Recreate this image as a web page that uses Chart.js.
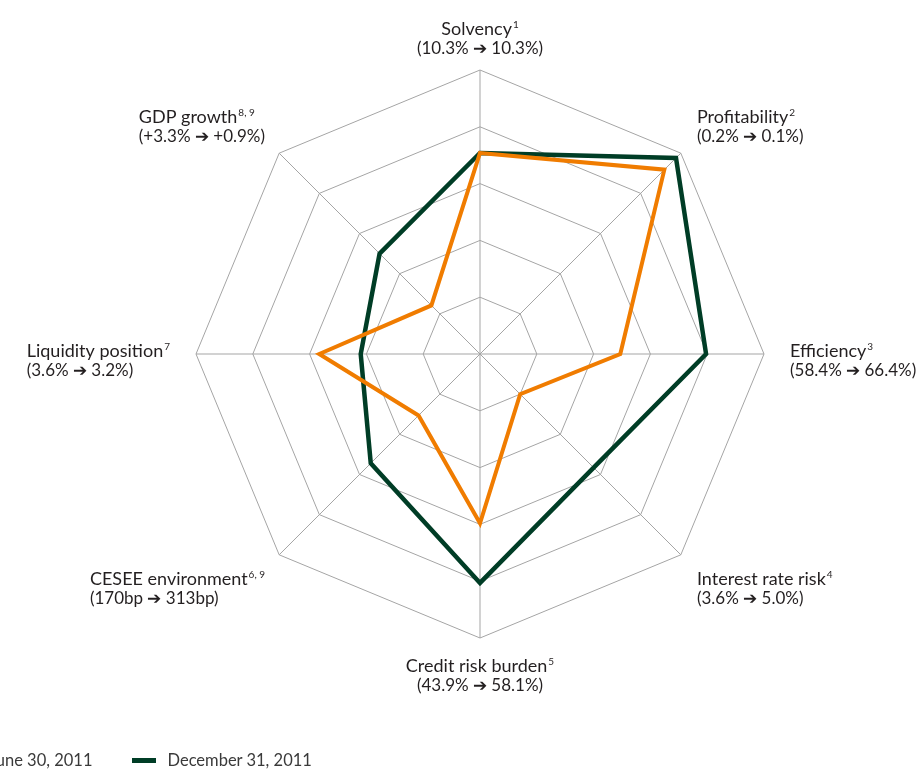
<!DOCTYPE html>
<html>
<head>
<meta charset="utf-8">
<script src="https://cdn.jsdelivr.net/npm/chart.js@4"></script>
<style>
  body { margin: 0; overflow: hidden; background: #fff; }
  #wrap { position: relative; width: 919px; height: 769px; }
  #legend { position: absolute; left: -46px; top: 750px; display: flex; align-items: center;
            font: 16.5px Lato, sans-serif; color: #3a3a3a; white-space: nowrap; }
  #legend .item { display: flex; align-items: center; margin-right: 40px; }
  #legend .bar { width: 24px; height: 5px; margin-right: 11px; }
</style>
</head>
<body>
<div id="wrap">
  <canvas id="chart-risk-radar"></canvas>
  <div id="legend"></div>
</div>
<script>
let axisNames = ['Solvency', 'Profitability', 'Efficiency', 'Interest rate risk',
    'Credit risk burden', 'CESEE environment', 'Liquidity position', 'GDP growth'];
let footnotes = ['1', '2', '3', '4', '5', '6, 9', '7', '8, 9'];
let changes = ['(10.3% \u2794 10.3%)', '(0.2% \u2794 0.1%)', '(58.4% \u2794 66.4%)', '(3.6% \u2794 5.0%)',
    '(43.9% \u2794 58.1%)', '(170bp \u2794 313bp)', '(3.6% \u2794 3.2%)', '(+3.3% \u2794 +0.9%)'];

let seriesNames = ['June 30, 2011', 'December 31, 2011'];
let june2011 = [3.54, 4.59, 2.47, 1.0, 2.98, 1.53, 2.83, 1.21];
let december2011 = [3.54, 4.88, 3.98, 2.83, 4.03, 2.72, 2.1, 2.5];
let seriesColors = ['#f07c00', '#003d26'];

// draws the two-line axis captions (name + footnote, then change in brackets)
const axisLabels = {
    id: 'axisLabels',
    afterDraw(chart) {
        const scale = chart.scales.r;
        const ctx = chart.ctx;
        ctx.save();
        ctx.fillStyle = '#231f20';
        ctx.textBaseline = 'alphabetic';
        ctx.textAlign = 'left';
        const nameFont = '18px Lato, sans-serif';
        const noteFont = '10px Lato, sans-serif';
        const changeFont = '17px Lato, sans-serif';
        const lineGap = 19;

        axisNames.forEach((name, i) => {
            const p = scale.getPointPosition(i, scale.drawingArea + 20);
            const dx = p.x - scale.xCenter;
            const dy = p.y - scale.yCenter;

            ctx.font = nameFont;
            const nameW = ctx.measureText(name).width;
            ctx.font = noteFont;
            const noteW = ctx.measureText(footnotes[i]).width + 1;
            ctx.font = changeFont;
            const changeW = ctx.measureText(changes[i]).width;
            const line1W = nameW + noteW;
            const blockW = Math.max(line1W, changeW);

            let base1;
            if (Math.abs(dx) < 1) {
                base1 = dy < 0 ? p.y + 4 - lineGap : p.y + 14;
            } else if (Math.abs(dy) < 1) {
                base1 = p.y + 3;
            } else {
                base1 = dy < 0 ? p.y + 3 - lineGap : p.y + 16;
            }

            let left;
            let centered = Math.abs(dx) < 1;
            if (centered) {
                left = p.x;
            } else if (dx > 0) {
                left = p.x + (Math.abs(dy) < 1 ? 6 : 2);
            } else {
                left = p.x - blockW - (Math.abs(dy) < 1 ? 6 : 0);
            }

            let x1 = centered ? p.x - line1W / 2 : left;
            let x2 = centered ? p.x - changeW / 2 : left;

            ctx.font = nameFont;
            ctx.fillText(name, x1, base1);
            ctx.font = noteFont;
            ctx.fillText(footnotes[i], x1 + nameW + 1, base1 - 7);
            ctx.font = changeFont;
            ctx.fillText(changes[i], x2, base1 + lineGap);
        });
        ctx.restore();
    },
};

let radarCanvas = document.getElementById('chart-risk-radar');

let chart = new Chart(radarCanvas, {
    type: 'radar',
    data: {
        labels: axisNames,
        datasets: [{
            label: seriesNames[0],
            data: june2011,
            borderColor: seriesColors[0],
            backgroundColor: seriesColors[0],
            borderWidth: 4,
            order: 1,
        }, {
            label: seriesNames[1],
            data: december2011,
            borderColor: seriesColors[1],
            backgroundColor: seriesColors[1],
            borderWidth: 4.5,
            order: 2,
        }],
    },
    options: {
        responsive: true,
        maintainAspectRatio: false,
        animation: false,
        layout: {
            padding: { top: 70, bottom: 131, left: 96, right: 55 },
        },
        elements: {
            line: { fill: false, tension: 0, borderJoinStyle: 'miter' },
            point: { radius: 0, hoverRadius: 0 },
        },
        scales: {
            r: {
                min: 0,
                max: 5,
                ticks: { display: false, stepSize: 1 },
                grid: { color: '#a5a5a5', lineWidth: 1 },
                angleLines: { color: '#a5a5a5', lineWidth: 1 },
                pointLabels: { display: false },
            },
        },
        plugins: {
            legend: { display: false },
            tooltip: { enabled: false },
        },
    },
    plugins: [axisLabels],
});

let legend = document.getElementById('legend');
chart.data.datasets.forEach((ds) => {
    let item = document.createElement('div');
    item.className = 'item';
    let bar = document.createElement('span');
    bar.className = 'bar';
    bar.style.background = ds.borderColor;
    let text = document.createElement('span');
    text.textContent = ds.label;
    item.appendChild(bar);
    item.appendChild(text);
    legend.appendChild(item);
});
</script>
</body>
</html>
